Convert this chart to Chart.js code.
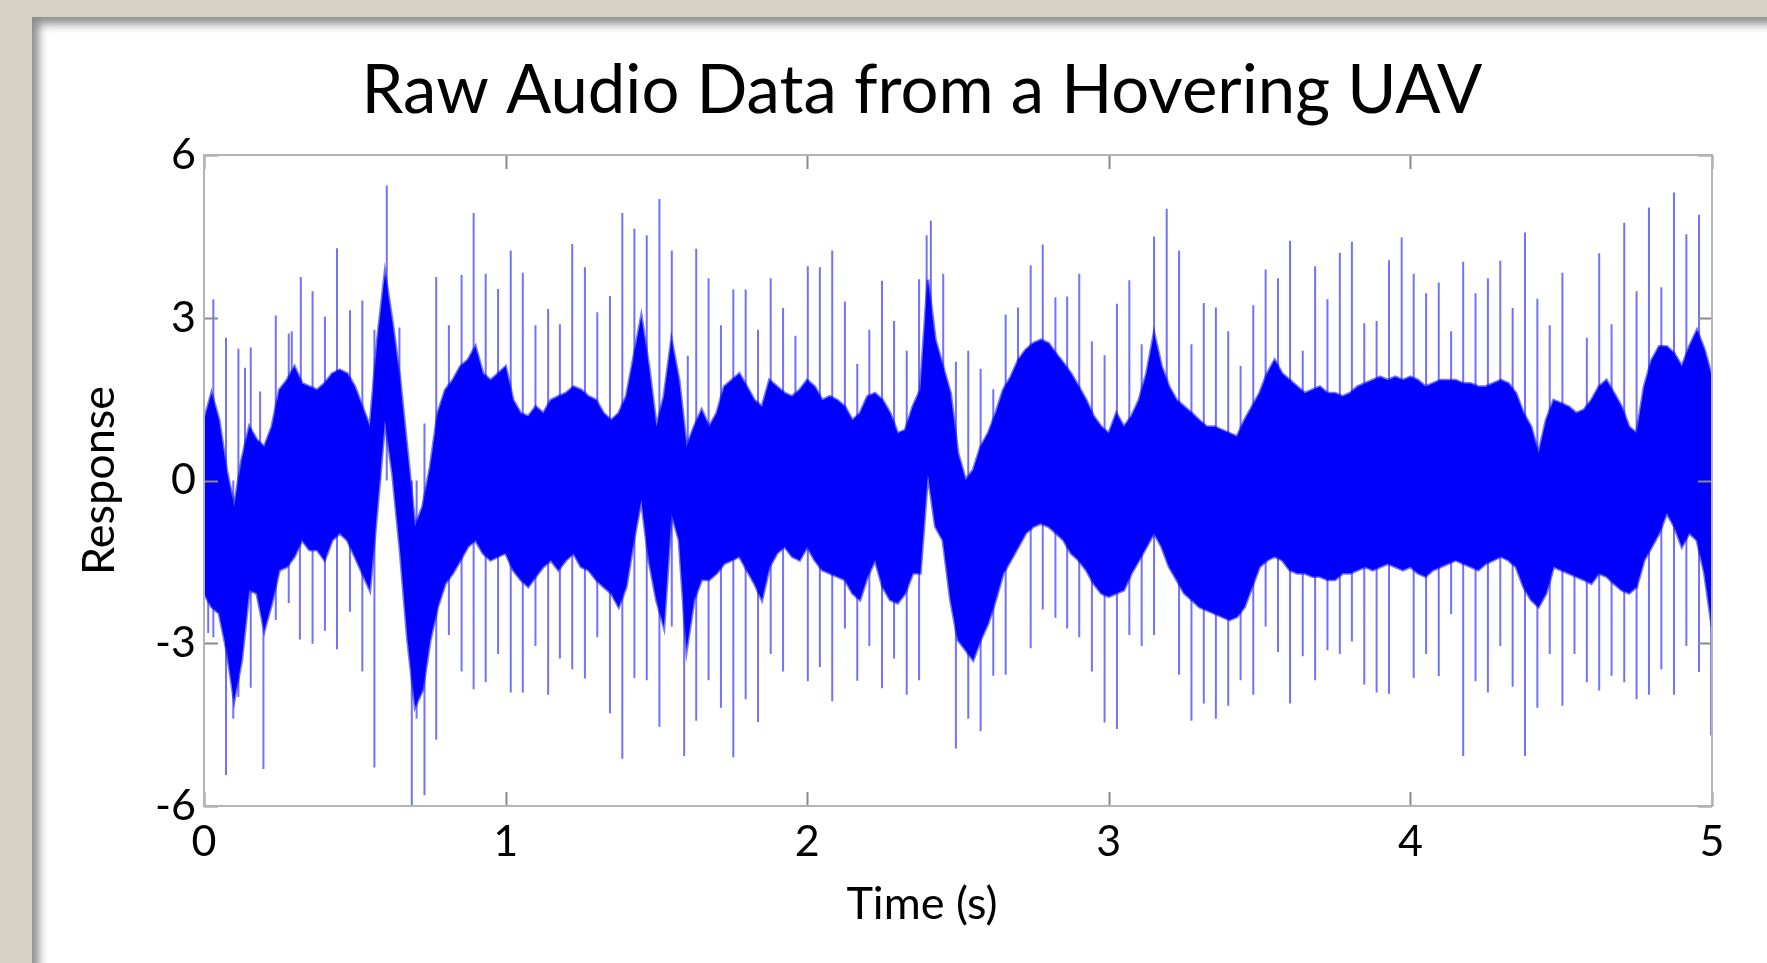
<!DOCTYPE html>
<html>
<head>
<meta charset="utf-8">
<title>Raw Audio Data from a Hovering UAV</title>
<script src="https://cdn.jsdelivr.net/npm/chart.js@4.4.1/dist/chart.umd.min.js"></script>
<style>
  html, body { margin: 0; padding: 0; overflow: hidden; }
  body { width: 1767px; height: 963px; background: #d7d3c4; position: relative; }
  #card { position: absolute; left: 32px; top: 17px; width: 1780px; height: 990px; background: #fff;
          box-shadow: inset 7px 7px 10px rgba(0, 0, 0, 0.45); }
  #audioChart { position: absolute; left: 32px; top: 17px; }
</style>
</head>
<body>
<div id="card"></div>
<canvas id="audioChart" width="1780" height="946"></canvas>
<script>
const FONT = 'Lato, "Open Sans", sans-serif';

// sample grid for the dense part of the signal (s)
const envTimes = [
  0.000, 0.025, 0.050, 0.075, 0.100, 0.125, 0.150, 0.175, 0.200, 0.225,
  0.250, 0.275, 0.300, 0.325, 0.350, 0.375, 0.400, 0.425, 0.450, 0.475,
  0.500, 0.525, 0.550, 0.575, 0.600, 0.625, 0.650, 0.675, 0.700, 0.725,
  0.750, 0.775, 0.800, 0.825, 0.850, 0.875, 0.900, 0.925, 0.950, 0.975,
  1.000, 1.025, 1.050, 1.075, 1.100, 1.125, 1.150, 1.175, 1.200, 1.225,
  1.250, 1.275, 1.300, 1.325, 1.350, 1.375, 1.400, 1.425, 1.450, 1.475,
  1.500, 1.525, 1.550, 1.575, 1.600, 1.625, 1.650, 1.675, 1.700, 1.725,
  1.750, 1.775, 1.800, 1.825, 1.850, 1.875, 1.900, 1.925, 1.950, 1.975,
  2.000, 2.025, 2.050, 2.075, 2.100, 2.125, 2.150, 2.175, 2.200, 2.225,
  2.250, 2.275, 2.300, 2.325, 2.350, 2.375, 2.400, 2.425, 2.450, 2.475,
  2.500, 2.525, 2.550, 2.575, 2.600, 2.625, 2.650, 2.675, 2.700, 2.725,
  2.750, 2.775, 2.800, 2.825, 2.850, 2.875, 2.900, 2.925, 2.950, 2.975,
  3.000, 3.025, 3.050, 3.075, 3.100, 3.125, 3.150, 3.175, 3.200, 3.225,
  3.250, 3.275, 3.300, 3.325, 3.350, 3.375, 3.400, 3.425, 3.450, 3.475,
  3.500, 3.525, 3.550, 3.575, 3.600, 3.625, 3.650, 3.675, 3.700, 3.725,
  3.750, 3.775, 3.800, 3.825, 3.850, 3.875, 3.900, 3.925, 3.950, 3.975,
  4.000, 4.025, 4.050, 4.075, 4.100, 4.125, 4.150, 4.175, 4.200, 4.225,
  4.250, 4.275, 4.300, 4.325, 4.350, 4.375, 4.400, 4.425, 4.450, 4.475,
  4.500, 4.525, 4.550, 4.575, 4.600, 4.625, 4.650, 4.675, 4.700, 4.725,
  4.750, 4.775, 4.800, 4.825, 4.850, 4.875, 4.900, 4.925, 4.950, 4.975,
  5.000
];

// upper edge of the dense band
const envTop = [
  1.11, 1.61, 1.11, 0.19, -0.48, 0.38, 0.99, 0.75, 0.62, 0.99,
  1.67, 1.85, 2.10, 1.79, 1.73, 1.67, 1.79, 1.97, 2.04, 1.97,
  1.73, 1.36, 0.99, 2.59, 3.82, 2.90, 1.85, 0.50, -0.85, -0.48,
  0.25, 1.24, 1.67, 1.85, 2.10, 2.22, 2.47, 1.97, 1.85, 1.97,
  2.10, 1.48, 1.24, 1.18, 1.36, 1.24, 1.48, 1.55, 1.61, 1.73,
  1.67, 1.55, 1.48, 1.24, 1.11, 1.24, 1.55, 2.28, 3.02, 2.10,
  0.99, 1.55, 2.59, 1.85, 0.62, 0.99, 1.30, 0.99, 1.24, 1.73,
  1.85, 1.97, 1.73, 1.48, 1.36, 1.85, 1.73, 1.61, 1.55, 1.67,
  1.85, 1.73, 1.48, 1.55, 1.48, 1.36, 1.11, 1.24, 1.55, 1.61,
  1.48, 1.24, 0.87, 0.93, 1.36, 1.67, 3.70, 2.59, 2.10, 1.61,
  0.50, 0.01, 0.19, 0.62, 0.87, 1.24, 1.67, 1.91, 2.22, 2.41,
  2.53, 2.59, 2.53, 2.34, 2.16, 1.97, 1.73, 1.48, 1.18, 0.99,
  0.87, 1.24, 0.99, 1.18, 1.48, 1.97, 2.71, 2.10, 1.73, 1.48,
  1.36, 1.24, 1.11, 0.99, 0.99, 0.93, 0.87, 0.81, 1.11, 1.36,
  1.61, 1.97, 2.22, 1.97, 1.85, 1.73, 1.61, 1.67, 1.73, 1.61,
  1.61, 1.55, 1.61, 1.73, 1.79, 1.85, 1.91, 1.85, 1.91, 1.85,
  1.91, 1.85, 1.73, 1.79, 1.85, 1.85, 1.85, 1.79, 1.79, 1.73,
  1.73, 1.79, 1.85, 1.79, 1.61, 1.24, 0.99, 0.50, 1.11, 1.48,
  1.42, 1.36, 1.24, 1.30, 1.48, 1.73, 1.85, 1.61, 1.36, 0.99,
  0.87, 1.73, 2.22, 2.47, 2.47, 2.34, 2.10, 2.47, 2.77, 2.41,
  1.90
];

// lower edge of the dense band
const envBottom = [
  -2.08, -2.33, -2.45, -3.12, -4.05, -3.31, -2.02, -2.08, -2.76, -2.26,
  -1.65, -1.59, -1.40, -1.10, -1.28, -1.28, -1.47, -1.10, -0.97, -1.10,
  -1.40, -1.71, -2.02, -0.48, 1.11, 0.13, -1.28, -2.94, -4.17, -3.86,
  -2.94, -2.33, -1.90, -1.71, -1.47, -1.22, -1.10, -1.34, -1.47, -1.40,
  -1.34, -1.65, -1.83, -1.96, -1.77, -1.59, -1.47, -1.65, -1.47, -1.34,
  -1.59, -1.65, -1.83, -1.96, -2.08, -2.33, -1.96, -1.10, -0.36, -1.47,
  -2.20, -2.70, -0.60, -1.10, -3.12, -2.20, -1.83, -1.83, -1.71, -1.53,
  -1.47, -1.40, -1.65, -1.90, -2.20, -1.59, -1.34, -1.22, -1.40, -1.47,
  -1.22, -1.47, -1.65, -1.71, -1.77, -1.83, -2.08, -2.20, -1.77, -1.47,
  -1.96, -2.20, -2.26, -2.08, -1.71, -1.71, 0.13, -0.85, -1.10, -2.20,
  -2.94, -3.12, -3.31, -2.94, -2.63, -2.20, -1.71, -1.47, -1.22, -0.97,
  -0.85, -0.79, -0.85, -0.97, -1.10, -1.34, -1.47, -1.65, -1.90, -2.08,
  -2.14, -2.08, -2.02, -1.71, -1.47, -1.22, -0.97, -1.22, -1.59, -1.83,
  -2.08, -2.20, -2.33, -2.39, -2.45, -2.51, -2.57, -2.51, -2.33, -1.96,
  -1.59, -1.47, -1.40, -1.47, -1.65, -1.71, -1.71, -1.77, -1.77, -1.83,
  -1.83, -1.71, -1.71, -1.65, -1.59, -1.65, -1.59, -1.53, -1.59, -1.65,
  -1.59, -1.71, -1.77, -1.65, -1.59, -1.53, -1.47, -1.53, -1.59, -1.65,
  -1.53, -1.47, -1.40, -1.47, -1.59, -1.96, -2.20, -2.33, -2.08, -1.59,
  -1.65, -1.71, -1.77, -1.83, -1.90, -1.71, -1.77, -1.90, -2.02, -2.08,
  -1.96, -1.47, -1.22, -0.97, -0.60, -0.85, -1.22, -0.97, -1.10, -1.71,
  -2.70
];

// impulses sticking out above the band
const upTimes = [
  0.031, 0.073, 0.114, 0.136, 0.155, 0.186, 0.238, 0.281, 0.291, 0.321,
  0.360, 0.401, 0.441, 0.484, 0.525, 0.565, 0.582, 0.606, 0.648, 0.731,
  0.770, 0.812, 0.854, 0.894, 0.934, 0.975, 1.017, 1.057, 1.099, 1.141,
  1.180, 1.221, 1.263, 1.304, 1.346, 1.387, 1.427, 1.468, 1.510, 1.551,
  1.604, 1.632, 1.673, 1.714, 1.755, 1.796, 1.837, 1.879, 1.920, 1.961,
  2.002, 2.042, 2.083, 2.125, 2.166, 2.206, 2.248, 2.288, 2.330, 2.371,
  2.396, 2.410, 2.451, 2.493, 2.534, 2.575, 2.617, 2.658, 2.699, 2.741,
  2.781, 2.823, 2.862, 2.902, 2.944, 2.986, 3.027, 3.068, 3.109, 3.150,
  3.192, 3.233, 3.274, 3.315, 3.355, 3.396, 3.437, 3.479, 3.520, 3.561,
  3.601, 3.643, 3.684, 3.725, 3.766, 3.806, 3.847, 3.888, 3.929, 3.971,
  4.011, 4.052, 4.094, 4.135, 4.175, 4.216, 4.257, 4.298, 4.339, 4.380,
  4.421, 4.462, 4.504, 4.585, 4.626, 4.667, 4.709, 4.750, 4.791, 4.832,
  4.874, 4.915, 4.957
];
const upPeaks = [
  3.34, 2.63, 2.43, 2.08, 2.45, 1.64, 3.04, 2.71, 2.75, 3.75,
  3.49, 3.02, 4.28, 3.14, 3.32, 2.78, 2.86, 5.44, 2.82, 1.05,
  3.75, 2.86, 3.79, 4.93, 3.81, 3.53, 4.24, 3.83, 2.86, 3.16,
  2.88, 4.36, 3.93, 3.10, 3.40, 4.93, 4.64, 4.52, 5.19, 4.24,
  2.30, 4.27, 3.73, 2.86, 3.52, 3.52, 2.78, 3.73, 3.18, 2.67,
  3.95, 3.93, 4.24, 3.30, 2.15, 2.78, 3.68, 2.94, 2.39, 3.71,
  4.52, 4.79, 3.81, 2.19, 2.39, 2.06, 1.68, 3.06, 3.19, 3.97,
  4.35, 3.38, 3.39, 3.81, 2.56, 2.31, 3.26, 3.69, 2.51, 4.50,
  5.01, 4.24, 2.51, 3.27, 3.19, 2.75, 2.11, 3.23, 3.89, 3.73,
  4.42, 2.39, 3.95, 3.34, 4.20, 4.40, 2.90, 2.94, 4.06, 4.48,
  3.81, 3.45, 3.65, 2.75, 4.03, 3.45, 3.73, 4.05, 3.18, 4.57,
  3.35, 2.86, 3.83, 2.63, 4.19, 2.88, 4.75, 3.49, 5.03, 3.56,
  5.31, 4.54, 4.90
];

// impulses sticking out below the band
const downTimes = [
  0.014, 0.031, 0.073, 0.097, 0.114, 0.155, 0.197, 0.238, 0.281, 0.318,
  0.360, 0.401, 0.441, 0.484, 0.525, 0.565, 0.689, 0.705, 0.731, 0.770,
  0.812, 0.854, 0.894, 0.934, 0.975, 1.017, 1.057, 1.099, 1.141, 1.180,
  1.221, 1.263, 1.304, 1.346, 1.387, 1.427, 1.468, 1.510, 1.551, 1.592,
  1.632, 1.673, 1.714, 1.755, 1.796, 1.837, 1.879, 1.920, 2.002, 2.042,
  2.083, 2.125, 2.166, 2.206, 2.248, 2.288, 2.330, 2.371, 2.493, 2.534,
  2.575, 2.617, 2.658, 2.741, 2.781, 2.823, 2.862, 2.902, 2.944, 2.986,
  3.027, 3.068, 3.109, 3.150, 3.233, 3.274, 3.315, 3.355, 3.396, 3.437,
  3.479, 3.520, 3.561, 3.601, 3.643, 3.684, 3.725, 3.766, 3.806, 3.847,
  3.888, 3.929, 4.011, 4.052, 4.094, 4.135, 4.175, 4.216, 4.257, 4.298,
  4.339, 4.380, 4.421, 4.462, 4.504, 4.544, 4.585, 4.626, 4.667, 4.709,
  4.750, 4.791, 4.832, 4.874, 4.915, 4.957, 4.997
];
const downLows = [
  -2.81, -2.89, -5.43, -4.39, -3.99, -3.82, -5.32, -2.57, -2.26, -2.93,
  -3.01, -2.77, -3.11, -2.42, -3.52, -5.29, -6.00, -4.39, -5.80, -4.78,
  -2.85, -3.52, -3.85, -3.72, -3.20, -3.91, -3.91, -3.05, -3.95, -3.28,
  -3.48, -3.65, -2.89, -4.29, -5.13, -3.64, -3.68, -4.54, -2.69, -5.08,
  -4.43, -3.68, -4.19, -5.10, -4.03, -4.45, -3.20, -3.52, -3.70, -3.44,
  -4.07, -2.73, -3.69, -3.05, -3.83, -3.28, -3.95, -3.68, -4.94, -4.39,
  -4.62, -3.60, -3.58, -3.09, -2.38, -2.53, -2.73, -2.89, -3.52, -4.46,
  -4.58, -2.85, -3.05, -2.85, -3.58, -4.43, -4.11, -4.39, -4.15, -3.68,
  -3.95, -2.69, -3.16, -4.11, -3.24, -3.68, -3.13, -3.20, -2.97, -3.76,
  -3.91, -3.93, -3.64, -3.20, -3.61, -2.46, -5.08, -3.70, -3.91, -3.05,
  -3.80, -5.08, -4.19, -3.20, -4.15, -3.20, -3.72, -3.87, -3.60, -3.72,
  -4.03, -3.95, -3.48, -3.95, -3.05, -3.53, -4.70
];

const xTicks = [0, 1, 2, 3, 4, 5];
const yTicks = [-6, -3, 0, 3, 6];

function toPoints(xs, ys) {
  return xs.map((x, i) => ({ x, y: ys[i] }));
}

// each impulse is a vertical segment from 0 to its tip, separated by gaps
function spikePoints(times, tips) {
  const pts = [];
  times.forEach((t, i) => {
    pts.push({ x: t, y: 0 }, { x: t, y: tips[i] }, { x: t, y: null });
  });
  return pts;
}

const framePlugin = {
  id: 'frame',
  afterDatasetsDraw(chart) {
    const { ctx, chartArea: a, scales: { x, y } } = chart;
    ctx.save();
    ctx.lineWidth = 2;
    ctx.strokeStyle = '#8a8a8a';
    ctx.beginPath();
    xTicks.forEach(t => {
      const px = Math.round(x.getPixelForValue(t)) + 0.5;
      ctx.moveTo(px, a.bottom); ctx.lineTo(px, a.bottom - 14);
      ctx.moveTo(px, a.top); ctx.lineTo(px, a.top + 14);
    });
    yTicks.forEach(v => {
      const py = Math.round(y.getPixelForValue(v)) + 0.5;
      ctx.moveTo(a.left, py); ctx.lineTo(a.left + 14, py);
      ctx.moveTo(a.right, py); ctx.lineTo(a.right - 14, py);
    });
    ctx.stroke();
    ctx.strokeStyle = '#b4b4b4';
    ctx.strokeRect(a.left, a.top, a.right - a.left, a.bottom - a.top);

    // title and axis names
    ctx.fillStyle = '#000';
    ctx.textAlign = 'center';
    ctx.textBaseline = 'alphabetic';
    ctx.font = '67px ' + FONT;
    ctx.fillText('Raw Audio Data from a Hovering UAV', chart.width / 2, 96);
    ctx.font = '45px ' + FONT;
    ctx.fillText('Time (s)', chart.width / 2, 902);
    ctx.translate(67, (a.top + a.bottom) / 2);
    ctx.rotate(-Math.PI / 2);
    ctx.textBaseline = 'middle';
    ctx.fillText('Response', 0, 0);
    ctx.restore();
  }
};

const ctx = document.getElementById('audioChart').getContext('2d');
const audioChart = new Chart(ctx, {
  type: 'line',
  data: {
    datasets: [
      {
        label: 'band top',
        data: toPoints(envTimes, envTop),
        borderColor: 'rgba(0, 0, 255, 0.55)',
        backgroundColor: '#0000ff',
        borderWidth: 3,
        pointRadius: 0,
        fill: '+1'
      },
      {
        label: 'band bottom',
        data: toPoints(envTimes, envBottom),
        borderColor: 'rgba(0, 0, 255, 0.55)',
        borderWidth: 3,
        pointRadius: 0,
        fill: false
      },
      {
        label: 'up spikes',
        data: spikePoints(upTimes, upPeaks),
        borderColor: 'rgba(20, 20, 255, 0.6)',
        borderWidth: 2,
        pointRadius: 0,
        spanGaps: false,
        fill: false
      },
      {
        label: 'down spikes',
        data: spikePoints(downTimes, downLows),
        borderColor: 'rgba(20, 20, 255, 0.6)',
        borderWidth: 2,
        pointRadius: 0,
        spanGaps: false,
        fill: false
      }
    ]
  },
  options: {
    responsive: false,
    devicePixelRatio: 1,
    animation: false,
    layout: { padding: { left: 72, right: 100, top: 138, bottom: 97 } },
    plugins: { legend: { display: false }, tooltip: { enabled: false }, title: { display: false } },
    scales: {
      x: {
        type: 'linear',
        min: 0,
        max: 5,
        afterFit: s => { s.height = 60; },
        grid: { display: false, drawTicks: false },
        border: { display: false },
        ticks: { stepSize: 1, maxRotation: 0, padding: 10, color: '#000', font: { family: FONT, size: 43 } }
      },
      y: {
        min: -6,
        max: 6,
        afterFit: s => { s.width = 100; },
        grid: { display: false, drawTicks: false },
        border: { display: false },
        ticks: { stepSize: 3, padding: 8, color: '#000', font: { family: FONT, size: 43 } }
      }
    }
  },
  plugins: [framePlugin]
});
</script>
</body>
</html>
